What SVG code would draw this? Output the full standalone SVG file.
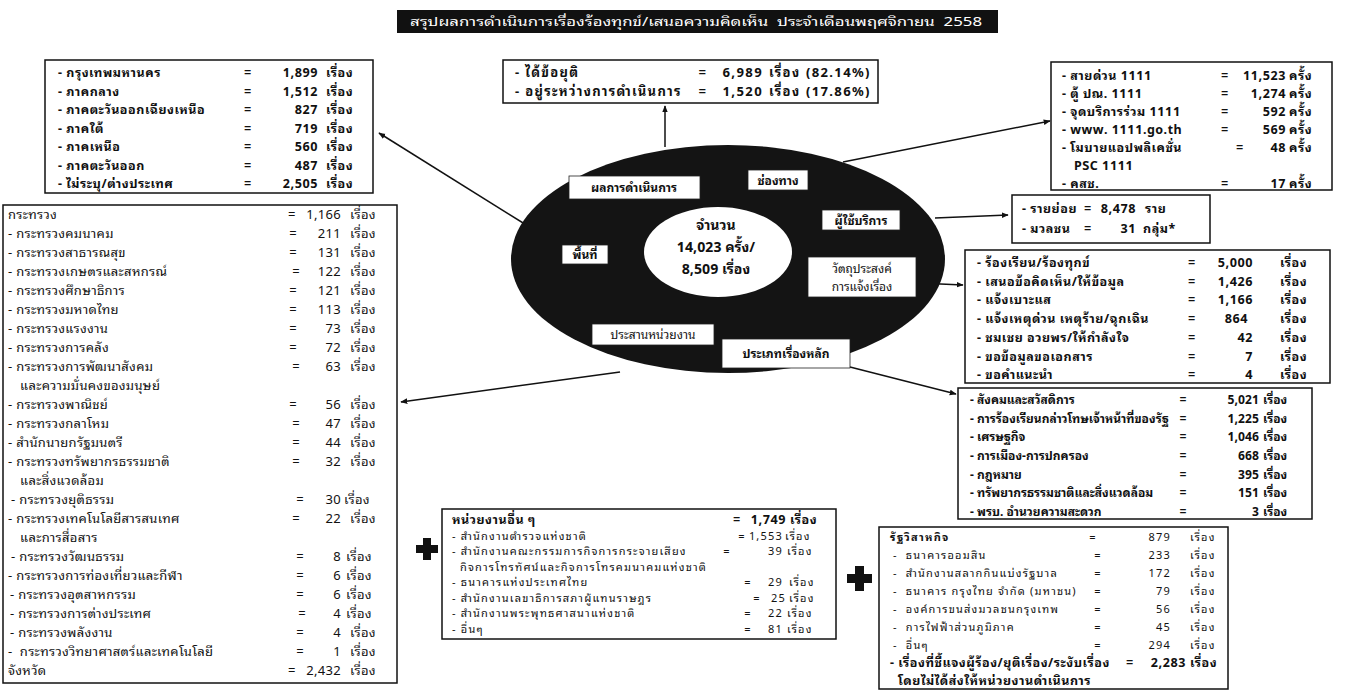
<svg xmlns="http://www.w3.org/2000/svg" width="1348" height="691" viewBox="0 0 1348 691">
<style>
text{font-family:"Noto Sans Thai Looped","Noto Sans Thai",Tahoma,"Noto Sans","DejaVu Sans",sans-serif;font-size:13px;letter-spacing:.3px;fill:#111;white-space:pre}
.b{font-weight:bold;font-size:12.5px;letter-spacing:.5px}
.s{font-size:11px;letter-spacing:1.2px}
#category text{letter-spacing:0;font-size:12px}
#result text{letter-spacing:1.3px;font-size:13px}
.h{letter-spacing:0;font-size:12px}
.big{font-size:14px}
.n{text-anchor:end}
.m{text-anchor:middle}
.w{fill:#fff}
.box{fill:#fff;stroke:#111;stroke-width:1.5}
.lbl{fill:#fff;stroke:#222;stroke-width:0.8}
.conn{stroke:#111;stroke-width:1.5;fill:none;marker-end:url(#ah)}
</style>
<defs>
<marker id="ah" viewBox="0 0 10 10" refX="9" refY="5" markerWidth="7" markerHeight="7" orient="auto" markerUnits="userSpaceOnUse">
<path d="M0,1 L10,5 L0,9 z" fill="#111"/>
</marker>
</defs>
<rect width="1348" height="691" fill="#fff"/>

<g id="title">
<rect x="397" y="10" width="601" height="23" fill="#111"/>
<text class="w h" x="410" y="26" font-size="14" textLength="572" lengthAdjust="spacingAndGlyphs">สรุปผลการดำเนินการเรื่องร้องทุกข์/เสนอความคิดเห็น  ประจำเดือนพฤศจิกายน  2558</text>
</g>

<g id="connectors">
<line class="conn" x1="665" y1="147" x2="665" y2="106"/>
<line class="conn" x1="528" y1="226" x2="379" y2="133"/>
<line class="conn" x1="843" y1="162" x2="1050" y2="121"/>
<line class="conn" x1="935" y1="218" x2="1008" y2="215"/>
<line class="conn" x1="918" y1="283" x2="963" y2="285"/>
<line class="conn" x1="850" y1="367" x2="956" y2="394"/>
<line class="conn" x1="620" y1="372" x2="401" y2="402"/>
</g>

<g id="hub">
<ellipse cx="728" cy="259" rx="217" ry="114" fill="#141414"/>
<ellipse cx="718" cy="252" rx="74" ry="45" fill="#fff"/>
<text class="b h big m" x="716" y="230">จำนวน</text>
<text class="b h big m" x="716" y="252">14,023 ครั้ง/</text>
<text class="b h big m" x="716" y="274">8,509 เรื่อง</text>
<rect class="lbl" x="569" y="176" width="131" height="23"/>
<text class="b h m" x="634" y="192">ผลการดำเนินการ</text>
<rect class="lbl" x="748" y="170" width="60" height="20"/>
<text class="b h m" x="778" y="185">ช่องทาง</text>
<rect class="lbl" x="822" y="210" width="78" height="20"/>
<text class="b h m" x="861" y="225">ผู้ใช้บริการ</text>
<rect class="lbl" x="562" y="245" width="46" height="19"/>
<text class="b h m" x="585" y="259">พื้นที่</text>
<rect class="lbl" x="808" y="257" width="108" height="40"/>
<text class="h m" x="862" y="273">วัตถุประสงค์</text>
<text class="h m" x="862" y="291">การแจ้งเรื่อง</text>
<rect class="lbl" x="592" y="324" width="122" height="21"/>
<text class="h m" x="653" y="339">ประสานหน่วยงาน</text>
<rect class="lbl" x="722" y="339" width="128" height="29"/>
<text class="b h m" x="786" y="358">ประเภทเรื่องหลัก</text>
</g>

<g id="region">
<rect class="box" x="45" y="60" width="328" height="133"/>
<text class="b" x="58" y="77">- กรุงเทพมหานคร</text><text class="b m" x="248" y="77">=</text><text class="b n" x="318" y="77">1,899</text><text class="b" x="326" y="77">เรื่อง</text>
<text class="b" x="58" y="95.5">- ภาคกลาง</text><text class="b m" x="248" y="95.5">=</text><text class="b n" x="318" y="95.5">1,512</text><text class="b" x="326" y="95.5">เรื่อง</text>
<text class="b" x="58" y="114">- ภาคตะวันออกเฉียงเหนือ</text><text class="b m" x="248" y="114">=</text><text class="b n" x="318" y="114">827</text><text class="b" x="326" y="114">เรื่อง</text>
<text class="b" x="58" y="132.5">- ภาคใต้</text><text class="b m" x="248" y="132.5">=</text><text class="b n" x="318" y="132.5">719</text><text class="b" x="326" y="132.5">เรื่อง</text>
<text class="b" x="58" y="151">- ภาคเหนือ</text><text class="b m" x="248" y="151">=</text><text class="b n" x="318" y="151">560</text><text class="b" x="326" y="151">เรื่อง</text>
<text class="b" x="58" y="169.5">- ภาคตะวันออก</text><text class="b m" x="248" y="169.5">=</text><text class="b n" x="318" y="169.5">487</text><text class="b" x="326" y="169.5">เรื่อง</text>
<text class="b" x="58" y="188">- ไม่ระบุ/ต่างประเทศ</text><text class="b m" x="248" y="188">=</text><text class="b n" x="318" y="188">2,505</text><text class="b" x="326" y="188">เรื่อง</text>
</g>

<g id="result">
<rect class="box" x="503" y="60" width="375" height="43"/>
<text class="b" x="515" y="77">- ได้ข้อยุติ</text><text class="b m" x="703" y="77">=</text><text class="b n" x="763" y="77">6,989</text><text class="b" x="769" y="77">เรื่อง</text><text class="b" x="806" y="77">(82.14%)</text>
<text class="b" x="515" y="96">- อยู่ระหว่างการดำเนินการ</text><text class="b m" x="703" y="96">=</text><text class="b n" x="763" y="96">1,520</text><text class="b" x="769" y="96">เรื่อง</text><text class="b" x="806" y="96">(17.86%)</text>
</g>

<g id="channel">
<rect class="box" x="1051" y="62" width="281" height="128"/>
<text class="b" x="1062" y="80">- สายด่วน 1111</text><text class="b m" x="1225" y="80">=</text><text class="b n" x="1286" y="80">11,523</text><text class="b" x="1289" y="80">ครั้ง</text>
<text class="b" x="1062" y="98">- ตู้ ปณ. 1111</text><text class="b m" x="1225" y="98">=</text><text class="b n" x="1286" y="98">1,274</text><text class="b" x="1289" y="98">ครั้ง</text>
<text class="b" x="1062" y="116">- จุดบริการร่วม 1111</text><text class="b m" x="1225" y="116">=</text><text class="b n" x="1286" y="116">592</text><text class="b" x="1289" y="116">ครั้ง</text>
<text class="b" x="1062" y="134">- www. 1111.go.th</text><text class="b m" x="1225" y="134">=</text><text class="b n" x="1286" y="134">569</text><text class="b" x="1289" y="134">ครั้ง</text>
<text class="b" x="1062" y="152">- โมบายแอปพลิเคชั่น</text><text class="b m" x="1240" y="152">=</text><text class="b n" x="1286" y="152">48</text><text class="b" x="1289" y="152">ครั้ง</text>
<text class="b" x="1074" y="170">PSC 1111</text>
<text class="b" x="1062" y="188">- คสช.</text><text class="b m" x="1225" y="188">=</text><text class="b n" x="1286" y="188">17</text><text class="b" x="1289" y="188">ครั้ง</text>
</g>

<g id="users">
<rect class="box" x="1012" y="195" width="198" height="48"/>
<text class="b" x="1022" y="213">- รายย่อย</text><text class="b m" x="1088" y="213">=</text><text class="b n" x="1136" y="213">8,478</text><text class="b" x="1145" y="213">ราย</text>
<text class="b" x="1022" y="233">- มวลชน</text><text class="b m" x="1088" y="233">=</text><text class="b n" x="1136" y="233">31</text><text class="b" x="1143" y="233">กลุ่ม*</text>
</g>

<g id="purpose">
<rect class="box" x="965" y="250" width="365" height="133"/>
<text class="b" x="977" y="267">- ร้องเรียน/ร้องทุกข์</text><text class="b m" x="1192" y="267">=</text><text class="b n" x="1253" y="267">5,000</text><text class="b" x="1280" y="267">เรื่อง</text>
<text class="b" x="977" y="286">- เสนอข้อคิดเห็น/ให้ข้อมูล</text><text class="b m" x="1192" y="286">=</text><text class="b n" x="1253" y="286">1,426</text><text class="b" x="1280" y="286">เรื่อง</text>
<text class="b" x="977" y="304">- แจ้งเบาะแส</text><text class="b m" x="1192" y="304">=</text><text class="b n" x="1253" y="304">1,166</text><text class="b" x="1280" y="304">เรื่อง</text>
<text class="b" x="977" y="323">- แจ้งเหตุด่วน เหตุร้าย/ฉุกเฉิน</text><text class="b m" x="1192" y="323">=</text><text class="b n" x="1248" y="323">864</text><text class="b" x="1280" y="323">เรื่อง</text>
<text class="b" x="977" y="342">- ชมเชย อวยพร/ให้กำลังใจ</text><text class="b m" x="1192" y="342">=</text><text class="b n" x="1253" y="342">42</text><text class="b" x="1280" y="342">เรื่อง</text>
<text class="b" x="977" y="361">- ขอข้อมูลขอเอกสาร</text><text class="b m" x="1192" y="361">=</text><text class="b n" x="1253" y="361">7</text><text class="b" x="1280" y="361">เรื่อง</text>
<text class="b" x="977" y="379">- ขอคำแนะนำ</text><text class="b m" x="1192" y="379">=</text><text class="b n" x="1253" y="379">4</text><text class="b" x="1280" y="379">เรื่อง</text>
</g>

<g id="category">
<rect class="box" x="958" y="388" width="354" height="131"/>
<text class="b" x="970" y="404">- สังคมและสวัสดิการ</text><text class="b m" x="1183" y="404">=</text><text class="b n" x="1259" y="404">5,021</text><text class="b" x="1263" y="404">เรื่อง</text>
<text class="b" x="970" y="423">- การร้องเรียนกล่าวโทษเจ้าหน้าที่ของรัฐ</text><text class="b m" x="1183" y="423">=</text><text class="b n" x="1259" y="423">1,225</text><text class="b" x="1263" y="423">เรื่อง</text>
<text class="b" x="970" y="441">- เศรษฐกิจ</text><text class="b m" x="1183" y="441">=</text><text class="b n" x="1259" y="441">1,046</text><text class="b" x="1263" y="441">เรื่อง</text>
<text class="b" x="970" y="460">- การเมือง-การปกครอง</text><text class="b m" x="1183" y="460">=</text><text class="b n" x="1259" y="460">668</text><text class="b" x="1263" y="460">เรื่อง</text>
<text class="b" x="970" y="479">- กฎหมาย</text><text class="b m" x="1183" y="479">=</text><text class="b n" x="1259" y="479">395</text><text class="b" x="1263" y="479">เรื่อง</text>
<text class="b" x="970" y="497">- ทรัพยากรธรรมชาติและสิ่งแวดล้อม</text><text class="b m" x="1183" y="497">=</text><text class="b n" x="1259" y="497">151</text><text class="b" x="1263" y="497">เรื่อง</text>
<text class="b" x="970" y="516">- พรบ. อำนวยความสะดวก</text><text class="b m" x="1183" y="516">=</text><text class="b n" x="1259" y="516">3</text><text class="b" x="1263" y="516">เรื่อง</text>
</g>

<g id="ministry">
<rect class="box" x="3" y="205" width="394" height="478"/>
<text x="8" y="219">กระทรวง</text><text x="288" y="219">=</text><text class="n" x="341" y="219">1,166</text><text x="350" y="219">เรื่อง</text>
<text x="8" y="238">- กระทรวงคมนาคม</text><text class="m" x="293" y="238">=</text><text class="n" x="341" y="238">211</text><text x="350" y="238">เรื่อง</text>
<text x="8" y="257">- กระทรวงสาธารณสุข</text><text class="m" x="293" y="257">=</text><text class="n" x="341" y="257">131</text><text x="350" y="257">เรื่อง</text>
<text x="8" y="276">- กระทรวงเกษตรและสหกรณ์</text><text class="m" x="296" y="276">=</text><text class="n" x="341" y="276">122</text><text x="350" y="276">เรื่อง</text>
<text x="8" y="295">- กระทรวงศึกษาธิการ</text><text class="m" x="293" y="295">=</text><text class="n" x="341" y="295">121</text><text x="350" y="295">เรื่อง</text>
<text x="8" y="314">- กระทรวงมหาดไทย</text><text class="m" x="293" y="314">=</text><text class="n" x="341" y="314">113</text><text x="350" y="314">เรื่อง</text>
<text x="8" y="333">- กระทรวงแรงงาน</text><text class="m" x="293" y="333">=</text><text class="n" x="341" y="333">73</text><text x="350" y="333">เรื่อง</text>
<text x="8" y="352">- กระทรวงการคลัง</text><text class="m" x="293" y="352">=</text><text class="n" x="341" y="352">72</text><text x="350" y="352">เรื่อง</text>
<text x="8" y="371">- กระทรวงการพัฒนาสังคม</text><text class="m" x="296" y="371">=</text><text class="n" x="341" y="371">63</text><text x="350" y="371">เรื่อง</text>
<text x="20" y="390">และความมั่นคงของมนุษย์</text>
<text x="8" y="409">- กระทรวงพาณิชย์</text><text class="m" x="293" y="409">=</text><text class="n" x="341" y="409">56</text><text x="350" y="409">เรื่อง</text>
<text x="8" y="428">- กระทรวงกลาโหม</text><text class="m" x="296" y="428">=</text><text class="n" x="341" y="428">47</text><text x="350" y="428">เรื่อง</text>
<text x="8" y="447">- สำนักนายกรัฐมนตรี</text><text class="m" x="296" y="447">=</text><text class="n" x="341" y="447">44</text><text x="350" y="447">เรื่อง</text>
<text x="8" y="466">- กระทรวงทรัพยากรธรรมชาติ</text><text class="m" x="296" y="466">=</text><text class="n" x="341" y="466">32</text><text x="350" y="466">เรื่อง</text>
<text x="20" y="485">และสิ่งแวดล้อม</text>
<text x="11" y="504">- กระทรวงยุติธรรม</text><text class="m" x="300" y="504">=</text><text class="n" x="341" y="504">30</text><text x="344" y="504">เรื่อง</text>
<text x="8" y="523">- กระทรวงเทคโนโลยีสารสนเทศ</text><text class="m" x="296" y="523">=</text><text class="n" x="341" y="523">22</text><text x="350" y="523">เรื่อง</text>
<text x="20" y="542">และการสื่อสาร</text>
<text x="11" y="561">- กระทรวงวัฒนธรรม</text><text class="m" x="300" y="561">=</text><text class="n" x="341" y="561">8</text><text x="346" y="561">เรื่อง</text>
<text x="8" y="580">- กระทรวงการท่องเที่ยวและกีฬา</text><text class="m" x="300" y="580">=</text><text class="n" x="341" y="580">6</text><text x="346" y="580">เรื่อง</text>
<text x="10" y="599">- กระทรวงอุตสาหกรรม</text><text class="m" x="300" y="599">=</text><text class="n" x="341" y="599">6</text><text x="346" y="599">เรื่อง</text>
<text x="10" y="618">- กระทรวงการต่างประเทศ</text><text class="m" x="302" y="618">=</text><text class="n" x="341" y="618">4</text><text x="346" y="618">เรื่อง</text>
<text x="10" y="637">- กระทรวงพลังงาน</text><text class="m" x="300" y="637">=</text><text class="n" x="341" y="637">4</text><text x="350" y="637">เรื่อง</text>
<text x="8" y="656">-  กระทรวงวิทยาศาสตร์และเทคโนโลยี</text><text class="m" x="300" y="656">=</text><text class="n" x="341" y="656">1</text><text x="350" y="656">เรื่อง</text>
<text x="8" y="675">จังหวัด</text><text x="288" y="675">=</text><text class="n" x="341" y="675">2,432</text><text x="350" y="675">เรื่อง</text>
</g>

<g id="plus1"><path d="M423,538 h8 v7 h7 v8 h-7 v7 h-8 v-7 h-7 v-8 h7 z" fill="#111"/></g>

<g id="others">
<rect class="box" x="442" y="509" width="394" height="130"/>
<text class="b" x="452" y="524">หน่วยงานอื่น ๆ</text><text class="b m" x="737" y="524">=</text><text class="b n" x="786" y="524">1,749</text><text class="b" x="790" y="524">เรื่อง</text>
<text class="s" x="452" y="539.5">- สำนักงานตำรวจแห่งชาติ</text><text class="s m" x="742" y="539.5">=</text><text class="s n" x="783" y="539.5">1,553</text><text class="s" x="785" y="539.5">เรื่อง</text>
<text class="s" x="452" y="555">- สำนักงานคณะกรรมการกิจการกระจายเสียง</text><text class="s m" x="727" y="555">=</text><text class="s n" x="783" y="555">39</text><text class="s" x="787" y="555">เรื่อง</text>
<text class="s" x="460" y="570.5">กิจการโทรทัศน์และกิจการโทรคมนาคมแห่งชาติ</text>
<text class="s" x="452" y="586">- ธนาคารแห่งประเทศไทย</text><text class="s m" x="748" y="586">=</text><text class="s n" x="783" y="586">29</text><text class="s" x="789" y="586">เรื่อง</text>
<text class="s" x="452" y="601.5">- สำนักงานเลขาธิการสภาผู้แทนราษฎร</text><text class="s m" x="757" y="601.5">=</text><text class="s n" x="786" y="601.5">25</text><text class="s" x="789" y="601.5">เรื่อง</text>
<text class="s" x="452" y="617">- สำนักงานพระพุทธศาสนาแห่งชาติ</text><text class="s m" x="748" y="617">=</text><text class="s n" x="783" y="617">22</text><text class="s" x="787" y="617">เรื่อง</text>
<text class="s" x="452" y="632.5">- อื่นๆ</text><text class="s m" x="748" y="632.5">=</text><text class="s n" x="783" y="632.5">81</text><text class="s" x="787" y="632.5">เรื่อง</text>
</g>

<g id="plus2"><path d="M855,566 h9 v8 h8 v9 h-8 v8 h-9 v-8 h-8 v-9 h8 z" fill="#111"/></g>

<g id="stateent">
<rect class="box" x="879" y="527" width="349" height="162"/>
<text class="b s" x="890" y="541">รัฐวิสาหกิจ</text><text class="s m" x="1093" y="541">=</text><text class="s n" x="1171" y="541">879</text><text class="s" x="1190" y="541">เรื่อง</text>
<text class="s" x="893" y="559">-  ธนาคารออมสิน</text><text class="s m" x="1098" y="559">=</text><text class="s n" x="1171" y="559">233</text><text class="s" x="1190" y="559">เรื่อง</text>
<text class="s" x="893" y="577">-  สำนักงานสลากกินแบ่งรัฐบาล</text><text class="s m" x="1098" y="577">=</text><text class="s n" x="1171" y="577">172</text><text class="s" x="1190" y="577">เรื่อง</text>
<text class="s" x="893" y="595">-  ธนาคาร กรุงไทย จำกัด (มหาชน)</text><text class="s m" x="1098" y="595">=</text><text class="s n" x="1171" y="595">79</text><text class="s" x="1190" y="595">เรื่อง</text>
<text class="s" x="893" y="613">-  องค์การขนส่งมวลชนกรุงเทพ</text><text class="s m" x="1098" y="613">=</text><text class="s n" x="1171" y="613">56</text><text class="s" x="1190" y="613">เรื่อง</text>
<text class="s" x="893" y="631">-  การไฟฟ้าส่วนภูมิภาค</text><text class="s m" x="1098" y="631">=</text><text class="s n" x="1171" y="631">45</text><text class="s" x="1190" y="631">เรื่อง</text>
<text class="s" x="893" y="649">-  อื่นๆ</text><text class="s m" x="1098" y="649">=</text><text class="s n" x="1171" y="649">294</text><text class="s" x="1190" y="649">เรื่อง</text>
<text class="b" x="890" y="667">- เรื่องที่ชี้แจงผู้ร้อง/ยุติเรื่อง/ระงับเรื่อง</text><text class="b m" x="1130" y="667">=</text><text class="b n" x="1186" y="667">2,283</text><text class="b" x="1190" y="667">เรื่อง</text>
<text class="b" x="898" y="685">โดยไม่ได้ส่งให้หน่วยงานดำเนินการ</text>
</g>
</svg>
